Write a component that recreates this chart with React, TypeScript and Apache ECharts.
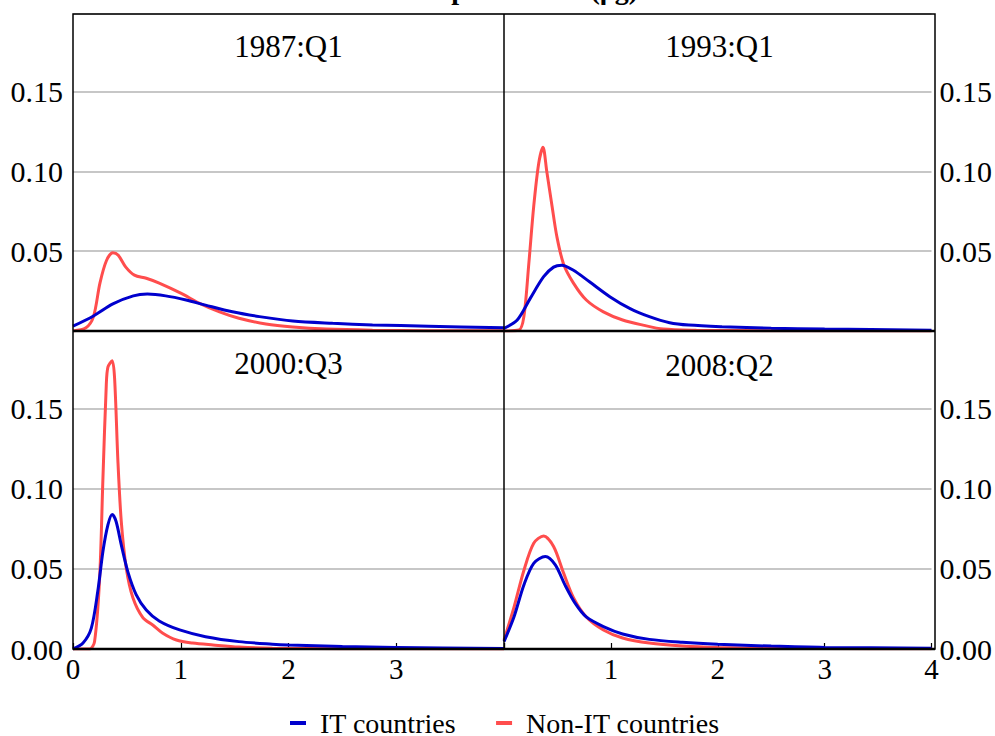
import React, { useEffect, useRef } from "react";
import * as echarts from "echarts";

const chartTitle = "Inflation persistence (ρg)";
const panelTitles = ["1987:Q1", "1993:Q1", "2000:Q3", "2008:Q2"];
const seriesNames = ["IT countries", "Non-IT countries"];
const xTickStep = 1;
const yTickStep = 0.05;

// Panel 1: 1987:Q1
const p1ItX = [0, 0.19, 0.37, 0.56, 0.69, 0.86, 1.05, 1.23, 1.48, 1.73, 2.04, 2.41, 2.78, 3.3, 4.0];
const p1ItY = [0.003, 0.0094, 0.017, 0.022, 0.0231, 0.022, 0.0194, 0.0162, 0.012, 0.009, 0.0062, 0.0048, 0.0038, 0.003, 0.002];
const p1NonX = [0, 0.12, 0.19, 0.25, 0.31, 0.37, 0.42, 0.49, 0.57, 0.68, 0.8, 1.0, 1.17, 1.36, 1.54, 1.79, 2.04, 2.35, 2.78, 3.3, 4.0];
const p1NonY = [0, 0.002, 0.009, 0.03, 0.044, 0.049, 0.0475, 0.04, 0.035, 0.033, 0.03, 0.0237, 0.0175, 0.012, 0.008, 0.0044, 0.0025, 0.0012, 0.0005, 0.0002, 0.0001];

// Panel 2: 1993:Q1
const p2ItX = [0, 0.124, 0.247, 0.371, 0.464, 0.54, 0.65, 0.8, 0.99, 1.18, 1.36, 1.55, 1.73, 2.04, 2.5, 3.0, 4.0];
const p2ItY = [0.0017, 0.0069, 0.0206, 0.034, 0.04, 0.0412, 0.038, 0.0308, 0.0215, 0.014, 0.009, 0.0052, 0.0037, 0.0027, 0.0018, 0.0012, 0.0005];
const p2NonX = [0, 0.14, 0.186, 0.232, 0.278, 0.325, 0.365, 0.4, 0.45, 0.495, 0.557, 0.65, 0.77, 0.93, 1.11, 1.3, 1.49, 1.8, 2.5, 4.0];
const p2NonY = [0, 0.0006, 0.009, 0.042, 0.078, 0.105, 0.115, 0.1, 0.078, 0.059, 0.042, 0.03, 0.0194, 0.012, 0.0069, 0.0037, 0.0012, 0.0005, 0.0002, 0];

// Panel 3: 2000:Q3
const p3ItX = [0, 0.093, 0.17, 0.23, 0.278, 0.324, 0.364, 0.4, 0.448, 0.51, 0.586, 0.68, 0.8, 0.99, 1.23, 1.54, 1.85, 2.0, 2.5, 3.0, 4.0];
const p3ItY = [0, 0.0037, 0.013, 0.036, 0.061, 0.0775, 0.084, 0.0796, 0.065, 0.048, 0.034, 0.0244, 0.0175, 0.0119, 0.0077, 0.0046, 0.003, 0.0025, 0.0015, 0.001, 0.0003];
const p3NonX = [0, 0.154, 0.2, 0.247, 0.278, 0.309, 0.324, 0.364, 0.386, 0.417, 0.448, 0.494, 0.556, 0.65, 0.74, 0.83, 0.96, 1.11, 1.3, 1.54, 1.85, 2.5, 4.0];
const p3NonY = [0, 0, 0.0046, 0.044, 0.107, 0.165, 0.176, 0.18, 0.169, 0.117, 0.0796, 0.0506, 0.032, 0.0194, 0.015, 0.01, 0.0056, 0.0037, 0.0025, 0.0012, 0.0005, 0.0002, 0];

// Panel 4: 2008:Q2
const p4ItX = [0, 0.093, 0.186, 0.278, 0.387, 0.48, 0.57, 0.665, 0.77, 0.93, 1.11, 1.36, 1.67, 2.0, 2.5, 3.0, 4.0];
const p4ItY = [0.0046, 0.02, 0.04, 0.0535, 0.0577, 0.0525, 0.04, 0.0286, 0.02, 0.014, 0.0094, 0.006, 0.0042, 0.003, 0.0018, 0.001, 0.0005];
const p4NonX = [0, 0.093, 0.186, 0.278, 0.371, 0.464, 0.557, 0.65, 0.77, 0.93, 1.11, 1.36, 1.67, 2.0, 2.5, 3.0, 4.0];
const p4NonY = [0.0056, 0.026, 0.049, 0.066, 0.0706, 0.064, 0.0475, 0.032, 0.02, 0.0119, 0.0069, 0.0037, 0.0019, 0.001, 0.0005, 0.0003, 0.0001];

const panelIt = [
  [p1ItX, p1ItY],
  [p2ItX, p2ItY],
  [p3ItX, p3ItY],
  [p4ItX, p4ItY],
];
const panelNon = [
  [p1NonX, p1NonY],
  [p2NonX, p2NonY],
  [p3NonX, p3NonY],
  [p4NonX, p4NonY],
];

const FONT = "'Liberation Serif', 'Times New Roman', serif";
const BLUE = "#0000cd";
const RED = "#ff4d4d";

const L = 73, R = 935, T = 14, MX = 504, MY = 331, B = 649;

export default function App() {
  const ref = useRef<HTMLDivElement>(null);
  useEffect(() => {
    if (!ref.current) return;
    const chart = echarts.init(ref.current, null, { renderer: "svg" });
    const grids = [
      { left: L, top: T, width: MX - L, height: MY - T },
      { left: MX, top: T, width: R - MX, height: MY - T },
      { left: L, top: MY, width: MX - L, height: B - MY },
      { left: MX, top: MY, width: R - MX, height: B - MY },
    ];
    const pair = (xs: number[], ys: number[]) => xs.map((x, i) => [x, ys[i]]);
    const xAxes = grids.map((_, i) => {
      const bottom = i >= 2;
      const left = i % 2 === 0;
      return {
        gridIndex: i,
        type: "value",
        min: 0,
        max: 4,
        interval: xTickStep,
        axisLine: { show: false },
        axisTick: {
          show: bottom,
          inside: true,
          length: 6,
          lineStyle: { color: "#000", width: 1.2 },
        },
        splitLine: { show: false },
        axisLabel: {
          show: bottom,
          margin: 5,
          color: "#000",
          fontFamily: FONT,
          fontSize: 29,
          formatter: (v: number) => {
            if (left && v >= 4) return "";
            if (!left && v <= 0) return "";
            return String(v);
          },
        },
      };
    });
    const yAxes = grids.map((_, i) => {
      const bottom = i >= 2;
      const left = i % 2 === 0;
      return {
        gridIndex: i,
        type: "value",
        position: left ? "left" : "right",
        min: 0,
        max: 0.1985,
        interval: yTickStep,
        axisLine: { show: false },
        axisTick: { show: false },
        splitLine: { show: true, lineStyle: { color: "#b5b5b5", width: 1.5 } },
        axisLabel: {
          margin: left ? 10 : 8,
          color: "#000",
          fontFamily: FONT,
          fontSize: 30,
          showMaxLabel: false,
          formatter: (v: number) => {
            const k = v / yTickStep;
            if (Math.abs(k - Math.round(k)) > 1e-6) return "";
            if (!bottom && v < 1e-9) return "";
            return v.toFixed(2);
          },
        },
      };
    });
    const series: any[] = [];
    for (let i = 0; i < 4; i++) {
      series.push({
        name: seriesNames[1],
        type: "line",
        xAxisIndex: i,
        yAxisIndex: i,
        data: pair(panelNon[i][0], panelNon[i][1]),
        showSymbol: false,
        smooth: 0.3,
        lineStyle: { color: RED, width: 3 },
        itemStyle: { color: RED },
      });
      series.push({
        name: seriesNames[0],
        type: "line",
        xAxisIndex: i,
        yAxisIndex: i,
        data: pair(panelIt[i][0], panelIt[i][1]),
        showSymbol: false,
        smooth: 0.3,
        lineStyle: { color: BLUE, width: 3 },
        itemStyle: { color: BLUE },
      });
    }
    const titlePos = [
      [(L + MX) / 2, 46],
      [(MX + R) / 2, 46],
      [(L + MX) / 2, 363],
      [(MX + R) / 2, 365],
    ];
    const graphic: any[] = [
      {
        type: "text",
        x: 489,
        y: 3,
        z: 100,
        style: {
          text: chartTitle,
          fill: "#000",
          font: `bold 28px ${FONT}`,
          textAlign: "center",
          textVerticalAlign: "bottom",
        },
      },
      ...panelTitles.map((t, i) => ({
        type: "text",
        x: titlePos[i][0],
        y: titlePos[i][1],
        z: 100,
        style: {
          text: t,
          fill: "#000",
          font: `31px ${FONT}`,
          textAlign: "center",
          textVerticalAlign: "middle",
        },
      })),
      {
        type: "rect",
        z: 100,
        shape: { x: L, y: T, width: R - L, height: B - T },
        style: { fill: "none", stroke: "#000", lineWidth: 1.5 },
      },
      {
        type: "line",
        z: 100,
        shape: { x1: MX, y1: T, x2: MX, y2: B },
        style: { stroke: "#000", lineWidth: 1.5 },
      },
      {
        type: "line",
        z: 100,
        shape: { x1: L, y1: MY, x2: R, y2: MY },
        style: { stroke: "#000", lineWidth: 2.5 },
      },
      {
        type: "line",
        z: 100,
        shape: { x1: L, y1: B, x2: R, y2: B },
        style: { stroke: "#000", lineWidth: 2.5 },
      },
    ];
    chart.setOption({
      animation: false,
      backgroundColor: "#fff",
      grid: grids,
      xAxis: xAxes,
      yAxis: yAxes,
      series,
      graphic,
      legend: {
        data: seriesNames,
        left: 285,
        top: 704,
        icon: "rect",
        itemWidth: 16,
        itemHeight: 4,
        itemGap: 40,
        textStyle: {
          fontFamily: FONT,
          fontSize: 28,
          lineHeight: 26,
          color: "#000",
          padding: [0, 0, 0, 9],
        },
      },
    });
    return () => chart.dispose();
  }, []);
  return (
    <div
      ref={ref}
      style={{ position: "fixed", left: 0, top: 0, width: 995, height: 736, background: "#fff" }}
    />
  );
}
